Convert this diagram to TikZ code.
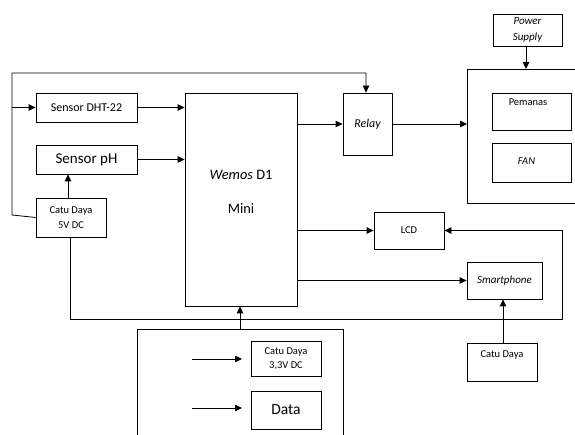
\documentclass[tikz,border=0pt]{standalone}
\usepackage{fontspec}
\setmainfont{Carlito}
\usetikzlibrary{arrows.meta}
\begin{document}
\begin{tikzpicture}[x=1pt,y=-1pt,
  box/.style={draw,line width=0.8pt,inner sep=0pt,font=\fontsize{10.5}{12}\selectfont,align=center},
  small/.style={font=\fontsize{10.5}{12}\selectfont},
  wire/.style={draw,line width=0.8pt},
  arr/.style={wire,-{Triangle[length=7pt,width=6.5pt]}}]
\useasboundingbox (0,0) rectangle (575,435);
% nodes
\node[box,minimum width=101pt,minimum height=29pt,font=\fontsize{12}{14}\selectfont] (dht) at (86.5,107.5) {Sensor DHT-22};
\node[box,minimum width=101pt,minimum height=29pt,font=\fontsize{15}{17}\selectfont] (ph) at (86.5,159.5) {Sensor pH};
\node[box,minimum width=70pt,minimum height=39pt,font=\fontsize{10.5}{15}\selectfont] (c5) at (71,217.5) {Catu Daya\\5V DC};
\node[box,minimum width=112pt,minimum height=213pt] (wem) at (241,199.5) {};
\node[font=\fontsize{14.4}{16}\selectfont,align=center] (wemt) at (241,192) {\textit{Wemos} D1\\[18pt]Mini};
\node[box,minimum width=49pt,minimum height=62pt,font=\fontsize{12}{14}\selectfont\itshape] (relay) at (367.5,124) {Relay};
\node[box,minimum width=69pt,minimum height=32pt,font=\fontsize{11}{16}\selectfont\itshape] (ps) at (527.5,30) {Power\\Supply};
\node[box,minimum width=79pt,minimum height=37pt] (pem) at (531.5,111.5) {};
\node[small] (pemt) at (528,102) {Pemanas};
\node[box,minimum width=79pt,minimum height=39pt] (fan) at (531.5,162.5) {};
\node[small,font=\fontsize{10.5}{12}\selectfont\itshape] (fant) at (526.5,161) {FAN};
\node[box,minimum width=70pt,minimum height=37pt] (lcd) at (409,230.5) {LCD};
\node[box,minimum width=75pt,minimum height=37pt,font=\fontsize{11}{12}\selectfont\itshape] (sp) at (504.5,280.5) {Smartphone};
\node[box,minimum width=70pt,minimum height=38pt] (cd) at (502,362) {};
\node[small] (cdt) at (502,355) {Catu Daya};
\node[box,minimum width=70pt,minimum height=35pt,font=\fontsize{10.5}{14}\selectfont] (c33) at (286,358.5) {Catu Daya\\3,3V DC};
\node[box,minimum width=70pt,minimum height=38pt,font=\fontsize{15.5}{17}\selectfont] (data) at (286,410) {Data};
% open boxes
\coordinate (bbtl) at (467,69);
\coordinate (bbbl) at (467,203);
\draw[wire] (575,69) -- (bbtl) -- (bbbl) -- (575,203);
\coordinate (lbtop) at (240,329);
\draw[wire] (137,435) -- (137,329) -- (343,329) -- (343,435);
% coordinates
\coordinate (lx1) at (12,215);
\coordinate (lx2) at (12,73);
\coordinate (rtop) at (366,73);
\coordinate (ldht) at (12,107.5);
\coordinate (b1) at (70,319);
\coordinate (b2) at (562,319);
\coordinate (b3) at (562,230.5);
\coordinate (a1s) at (192,359);
\coordinate (a1e) at (242,359);
\coordinate (a2s) at (192,408);
\coordinate (a2e) at (242,408);
% connectors
\draw[arr] (c5.west) -- (lx1) -- (lx2) -- (rtop) -- (relay.north -| rtop);
\draw[arr] (ldht) -- (dht.west);
\draw[arr] (dht.east) -- (dht.east -| wem.west);
\draw[arr] (ph.east) -- (ph.east -| wem.west);
\draw[arr] (c5.north -| 68,0) -- (ph.south -| 68,0);
\draw[arr] (wem.east |- relay.west) -- (relay.west);
\draw[arr] (relay.east) -- (relay.east -| bbtl);
\draw[arr] (ps.south -| 526,0) -- (bbtl -| 526,0);
\draw[arr] (wem.east |- lcd.west) -- (lcd.west);
\draw[arr] (wem.east |- sp.west) -- (sp.west);
\draw[arr] (c5.south -| b1) -- (b1) -- (b2) -- (b3) -- (lcd.east);
\draw[arr] (cd.north -| 503,0) -- (sp.south -| 503,0);
\draw[arr] (lbtop) -- (wem.south -| lbtop);
\draw[arr] (a1s) -- (a1e);
\draw[arr] (a2s) -- (a2e);
\end{tikzpicture}
\end{document}
